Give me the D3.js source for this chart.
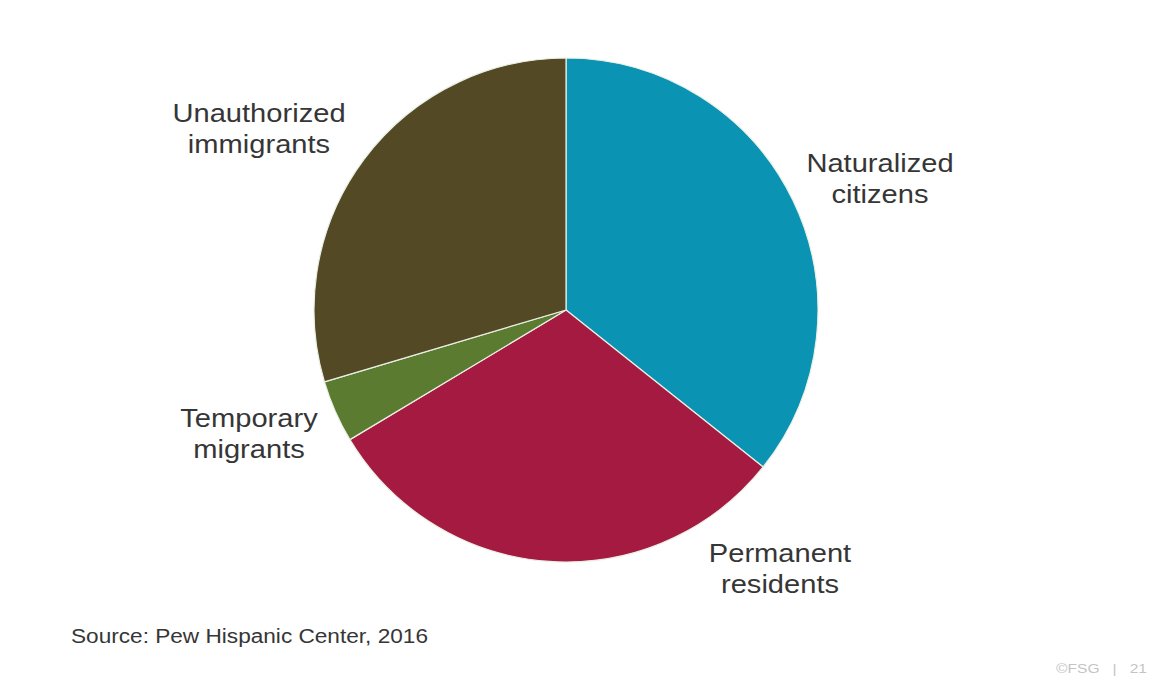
<!DOCTYPE html>
<html>
<head>
<meta charset="utf-8">
<script src="https://cdn.jsdelivr.net/npm/d3@7"></script>
<style>
  html, body { margin: 0; padding: 0; background: #ffffff; }
  svg { display: block; }
  text { font-family: "Liberation Sans", Arial, sans-serif; }
</style>
</head>
<body>
<svg id="chart" width="1156" height="681"></svg>
<script>
// Immigrant population by legal status (share of total, %)
const categories = ["Naturalized citizens", "Permanent residents", "Temporary migrants", "Unauthorized immigrants"];
const shares = [35.7, 30.7, 4.0, 29.6];
const colors = ["#0a93b3", "#a51a40", "#5b7b31", "#534a25"];
const labelLines = [
  ["Naturalized", "citizens"],
  ["Permanent", "residents"],
  ["Temporary", "migrants"],
  ["Unauthorized", "immigrants"]
];
// label anchor points (center x, first baseline y), chart pixels
const labelPos = [[880, 172], [780, 562], [249, 427], [259, 122]];
const sourceText = "Source: Pew Hispanic Center, 2016";
const footerText = "©FSG   |   21";

const svg = d3.select("#chart");
const cx = 566, cy = 310, r = 252;
const stretch = 1.12; // slide text is set slightly wide

const data = categories.map((c, i) => ({ name: c, value: shares[i], color: colors[i], lines: labelLines[i], pos: labelPos[i] }));

const pie = d3.pie().value(d => d.value).sort(null);
const arc = d3.arc().innerRadius(0).outerRadius(r);

const g = svg.append("g").attr("transform", `translate(${cx},${cy})`);
g.selectAll("path")
  .data(pie(data))
  .join("path")
  .attr("d", arc)
  .attr("fill", d => d.data.color)
  .attr("stroke", "#e9efe4")
  .attr("stroke-width", 1.2)
  .attr("stroke-linejoin", "round");

// category labels
const lab = svg.append("g");
data.forEach(d => {
  const t = lab.append("text")
    .attr("transform", `translate(${d.pos[0]},${d.pos[1]}) scale(${stretch},1)`)
    .attr("text-anchor", "middle")
    .attr("font-size", 26)
    .attr("fill", "#363636");
  d.lines.forEach((line, i) => {
    t.append("tspan").attr("x", 0).attr("y", i * 31).text(line);
  });
});

svg.append("text")
  .attr("transform", `translate(71,643) scale(1.16,1)`)
  .attr("font-size", 19.5)
  .attr("fill", "#363636")
  .text(sourceText);

svg.append("text")
  .attr("transform", `translate(1147,673) scale(1.3,1)`)
  .attr("text-anchor", "end")
  .attr("font-size", 12)
  .attr("fill", "#c4c4c4")
  .style("white-space", "pre")
  .text(footerText);
</script>
</body>
</html>
